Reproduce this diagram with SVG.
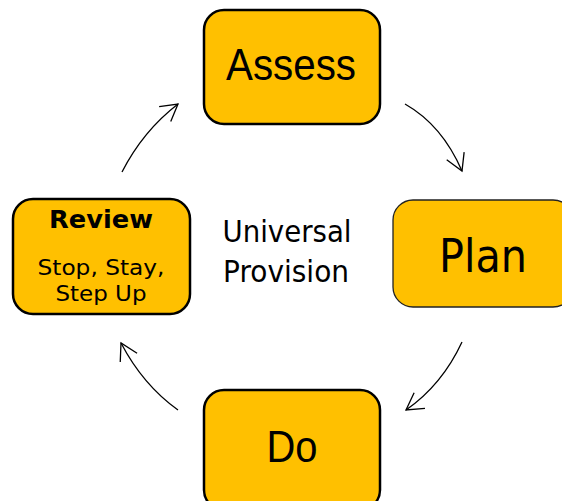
<svg xmlns="http://www.w3.org/2000/svg" width="562" height="501" viewBox="0 0 562 501">
<style>
.box{fill:#FFC000;stroke:#000;stroke-width:2.5}
.thin{stroke-width:1.3;stroke:#222}
.big{font-family:"Liberation Sans",Arial,sans-serif;font-size:45px;fill:#000;text-anchor:middle}
.tah{font-family:"DejaVu Sans","Liberation Sans",sans-serif;fill:#000;text-anchor:middle}
.arc{fill:none;stroke:#000;stroke-width:1.3}
</style>
<defs>
<marker id="ah" markerUnits="userSpaceOnUse" markerWidth="40" markerHeight="40" viewBox="-20 -20 40 40" refX="0" refY="0" orient="auto">
<path d="M-16.5,-9.5 L0,0 L-16.5,9.5" fill="none" stroke="#000" stroke-width="1.3"/>
</marker>
</defs>
<rect width="562" height="501" fill="#fff"/>
<g id="connectors">
<path class="arc" d="M122,172 Q143,131 178,104" marker-end="url(#ah)"/>
<path class="arc" d="M405,104 Q442,125 462,171" marker-end="url(#ah)"/>
<path class="arc" d="M462,342 Q442,385 406,410" marker-end="url(#ah)"/>
<path class="arc" d="M178,410 Q143,385 121,343" marker-end="url(#ah)"/>
</g>
<g id="assess">
<rect class="box" x="204" y="10" width="176" height="114" rx="20"/>
<text class="big" x="291" y="80" textLength="130" lengthAdjust="spacingAndGlyphs">Assess</text>
</g>
<g id="plan">
<rect class="box thin" x="393" y="200" width="180" height="107" rx="20"/>
<text class="tah" x="483" y="272" font-size="47" textLength="88" lengthAdjust="spacingAndGlyphs">Plan</text>
</g>
<g id="do">
<rect class="box" x="204" y="390" width="176" height="120" rx="20"/>
<text class="big" x="292" y="462" textLength="51" lengthAdjust="spacingAndGlyphs">Do</text>
</g>
<g id="review">
<rect class="box" x="13" y="199" width="177" height="115" rx="20"/>
<text class="tah" x="101" y="228" font-size="24" font-weight="bold" textLength="104" lengthAdjust="spacingAndGlyphs">Review</text>
<text class="tah" x="101" y="275" font-size="22" textLength="127" lengthAdjust="spacingAndGlyphs">Stop, Stay,</text>
<text class="tah" x="101" y="301" font-size="22" textLength="91" lengthAdjust="spacingAndGlyphs">Step Up</text>
</g>
<g id="center">
<text class="tah" x="287" y="242" font-size="30" textLength="129" lengthAdjust="spacingAndGlyphs">Universal</text>
<text class="tah" x="286" y="282" font-size="30" textLength="126" lengthAdjust="spacingAndGlyphs">Provision</text>
</g>
</svg>
